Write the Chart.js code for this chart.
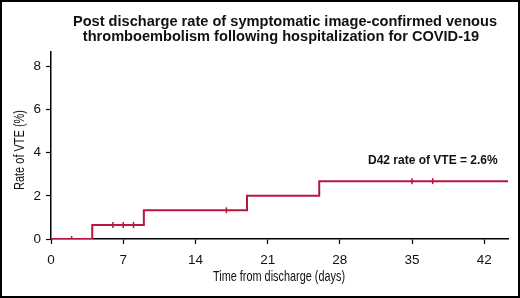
<!DOCTYPE html>
<html>
<head>
<meta charset="utf-8">
<script src="https://cdn.jsdelivr.net/npm/chart.js@4/dist/chart.umd.min.js"></script>
<style>
  html, body { margin: 0; padding: 0; background: #fff; }
  #wrap { width: 520px; height: 298px; box-sizing: border-box; border: 2px solid #000; position: relative; }
  canvas { display: block; }
</style>
</head>
<body>
<div id="wrap"><canvas id="kmChart" width="516" height="294"></canvas></div>
<script>
// step curve: day -> cumulative VTE rate (%)
const stepDays = [0, 4, 9, 19, 26, 44.3];
const stepRates = [0, 0.65, 1.33, 2.0, 2.68, 2.68];
// censored observations
const censorDays = [2, 6, 7, 8, 17, 35, 37];
const censorRates = [0, 0.65, 0.65, 0.65, 1.33, 2.68, 2.68];
const xTicks = [0, 7, 14, 21, 28, 35, 42];
const yTicks = [0, 2, 4, 6, 8];

const titleLines = [
    'Post discharge rate of symptomatic image-confirmed venous',
    'thromboembolism following hospitalization for COVID-19'
];
const xTitle = 'Time from discharge (days)';
const yTitle = 'Rate of VTE (%)';
const noteText = 'D42 rate of VTE = 2.6%';

const red = '#b8163f';

// condensed look: squeeze regular text to a given width
function narrowText(ctx, text, cx, cy, width, angle) {
    ctx.save();
    ctx.translate(cx, cy);
    ctx.rotate(angle);
    const w = ctx.measureText(text).width;
    ctx.scale(width / w, 1);
    ctx.fillText(text, 0, 0);
    ctx.restore();
}

const textPlugin = {
    id: 'extraText',
    afterDraw: function(chart) {
        const ctx = chart.ctx;
        const x = chart.scales.x;
        const y = chart.scales.y;
        ctx.save();
        ctx.fillStyle = '#111';
        ctx.textAlign = 'center';
        ctx.textBaseline = 'middle';
        ctx.font = 'bold 14.6px "Liberation Sans", Arial, sans-serif';
        ctx.fillText(titleLines[0], 283, 20);
        ctx.fillText(titleLines[1], 279, 35);

        ctx.font = '15px "Liberation Sans", Arial, sans-serif';
        narrowText(ctx, xTitle, 277, 275, 132, 0);
        narrowText(ctx, yTitle, 18, 148, 80, -Math.PI / 2);

        ctx.font = 'bold 12px "Liberation Sans", Arial, sans-serif';
        ctx.textAlign = 'right';
        ctx.fillText(noteText, x.getPixelForValue(43.3), y.getPixelForValue(3.63));
        ctx.restore();
    }
};

const ctx = document.getElementById('kmChart').getContext('2d');
const chart = new Chart(ctx, {
    type: 'scatter',
    data: {
        datasets: [{
            type: 'line',
            data: stepDays.map((d, i) => ({ x: d, y: stepRates[i] })),
            stepped: true,
            borderColor: red,
            borderWidth: 2,
            pointRadius: 0,
            fill: false
        }, {
            data: censorDays.map((d, i) => ({ x: d, y: censorRates[i] })),
            pointStyle: 'line',
            rotation: 90,
            radius: 3,
            borderColor: red,
            borderWidth: 1.5
        }]
    },
    options: {
        responsive: false,
        animation: false,
        layout: { padding: { top: 50, left: 0, right: 10, bottom: 0 } },
        plugins: {
            legend: { display: false },
            tooltip: { enabled: false }
        },
        scales: {
            x: {
                type: 'linear',
                min: 0,
                max: 44.3,
                afterBuildTicks: function(scale) { scale.ticks = xTicks.map(v => ({ value: v })); },
                afterFit: function(scale) { scale.height = 57; },
                grid: { drawOnChartArea: false, drawTicks: true, tickLength: 5, color: '#000', tickWidth: 1.2 },
                border: { display: true, color: '#000', width: 1.5 },
                ticks: { color: '#111', padding: 8, font: { size: 13.5, family: '"Liberation Sans", Arial, sans-serif' } }
            },
            y: {
                type: 'linear',
                min: 0,
                max: 8.66,
                afterBuildTicks: function(scale) { scale.ticks = yTicks.map(v => ({ value: v })); },
                afterFit: function(scale) { scale.width = 49; },
                grid: { drawOnChartArea: false, drawTicks: true, tickLength: 5, color: '#000', tickWidth: 1.2 },
                border: { display: true, color: '#000', width: 1.5 },
                ticks: { color: '#111', padding: 5, font: { size: 13.5, family: '"Liberation Sans", Arial, sans-serif' } }
            }
        }
    },
    plugins: [textPlugin]
});
</script>
</body>
</html>
